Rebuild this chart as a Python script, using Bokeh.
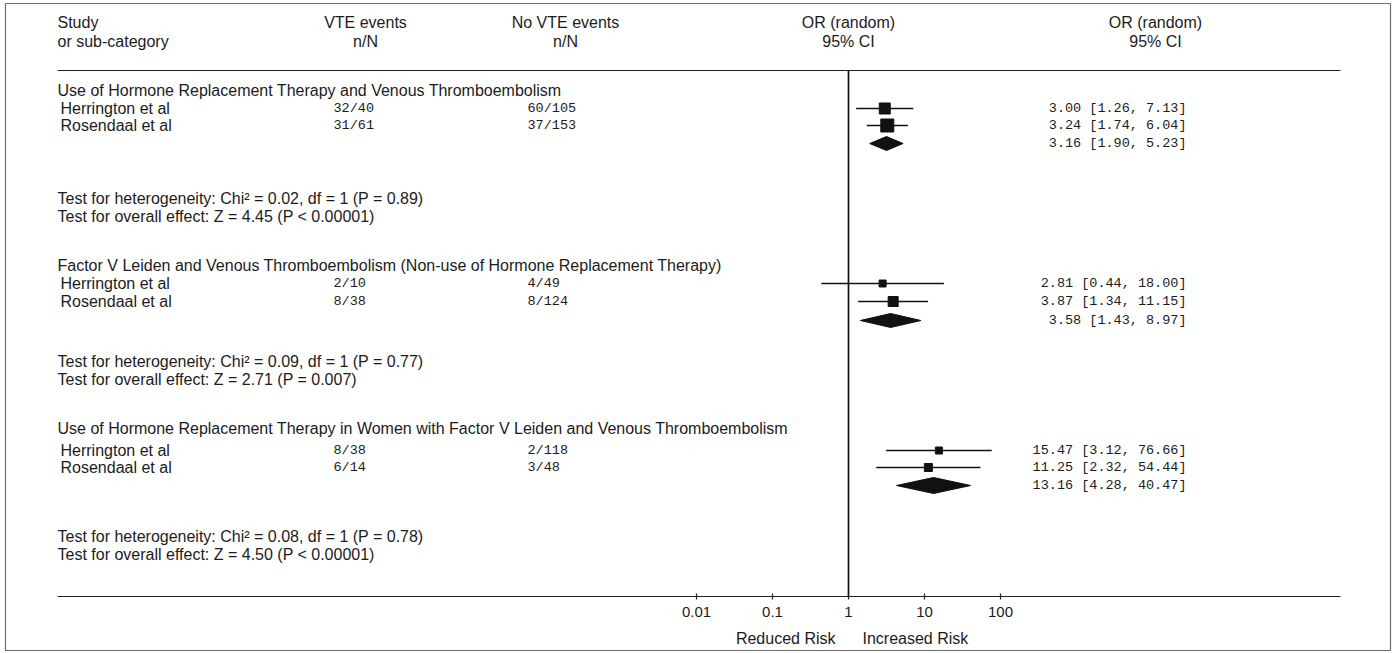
from bokeh.plotting import figure
from bokeh.models import Range1d, LogScale, ColumnDataSource
from bokeh.embed import file_html
from bokeh.resources import INLINE
from bokeh.core.properties import value

# ---------------- data ----------------
group_titles = [
    "Use of Hormone Replacement Therapy and Venous Thromboembolism",
    "Factor V Leiden and Venous Thromboembolism (Non-use of Hormone Replacement Therapy)",
    "Use of Hormone Replacement Therapy in Women with Factor V Leiden and Venous Thromboembolism",
]
study_names = ["Herrington et al", "Rosendaal et al"]
vte_events = [["32/40", "31/61"], ["2/10", "8/38"], ["8/38", "6/14"]]
no_vte_events = [["60/105", "37/153"], ["4/49", "8/124"], ["2/118", "3/48"]]
study_or = [[3.00, 3.24], [2.81, 3.87], [15.47, 11.25]]
study_lo = [[1.26, 1.74], [0.44, 1.34], [3.12, 2.32]]
study_hi = [[7.13, 6.04], [18.00, 11.15], [76.66, 54.44]]
pooled_or = [3.16, 3.58, 13.16]
pooled_lo = [1.90, 1.43, 4.28]
pooled_hi = [5.23, 8.97, 40.47]
het_chi2 = ["0.02", "0.09", "0.08"]
het_df = [1, 1, 1]
het_p = ["0.89", "0.77", "0.78"]
z_value = ["4.45", "2.71", "4.50"]
z_p = ["< 0.00001", "= 0.007", "< 0.00001"]
null_value = 1.0
tick_values = [0.01, 0.1, 1, 10, 100]
tick_labels = ["0.01", "0.1", "1", "10", "100"]
risk_labels = ["Reduced Risk", "Increased Risk"]
header_row1 = ["Study", "VTE events", "No VTE events", "OR (random)", "OR (random)"]
header_row2 = ["or sub-category", "n/N", "n/N", "95% CI", "95% CI"]

# ---------------- layout (page pixel rows / columns) ----------------
title_y = [90, 265, 428]
study_y = [[108, 125], [283, 301], [450, 467]]
pooled_y = [143, 320, 485]
test_y = [[198, 216], [361, 379], [536, 554]]
marker_size = [[11, 13], [7, 10], [7, 8]]
diamond_half = [7, 7, 8]
header_y = [22, 41]
header_x = [57, 365, 565, 848, 1155]
header_align = ["left", "center", "center", "center", "center"]
sep_y = 70
left_x, right_x = 57, 1340
col_vte_x, col_novte_x, col_ci_x = 333, 527, 1186
x_one_px, px_per_decade = 848, 76
axis_y, tick_label_y, risk_y = 596, 611, 638
box_l, box_r, box_t, box_b = 5, 1390, 3, 650

SANS = value("Liberation Sans")
MONO = value("Liberation Mono")
TXT = "#1c1c1c"
FS = "16px"
TFS = "15px"
MFS = "13.5px"

W, H = 1392, 652
p = figure(width=W, height=H, output_backend="svg", toolbar_location=None,
           x_range=Range1d(box_l, box_r), y_range=Range1d(box_b, box_t),
           x_axis_type=None, y_axis_type=None,
           min_border_left=box_l, min_border_right=W - box_r,
           min_border_top=box_t, min_border_bottom=H - box_b)
p.grid.visible = False
p.outline_line_color = "#6e6e6e"
p.outline_line_width = 1.2
p.background_fill_color = "white"
p.border_fill_color = "white"

or_lo = 10 ** ((box_l - x_one_px) / px_per_decade)
or_hi = 10 ** ((box_r - x_one_px) / px_per_decade)
p.extra_x_ranges = {"or": Range1d(or_lo, or_hi)}
p.extra_x_scales = {"or": LogScale()}

# headers
for row, yy in zip([header_row1, header_row2], header_y):
    p.text(x=header_x, y=[yy] * len(row), text=row, text_align=header_align,
           text_baseline="middle", text_font=SANS, text_font_size=FS, text_color=TXT)

# separator line and axis line
p.segment(x0=[left_x, left_x], x1=[right_x, right_x], y0=[sep_y, axis_y], y1=[sep_y, axis_y],
          line_color="#222222", line_width=1.2)

# null line
p.segment(x0=[null_value], x1=[null_value], y0=[sep_y], y1=[axis_y], x_range_name="or",
          line_color="#111111", line_width=1.7)

for g in range(3):
    p.text(x=[left_x], y=[title_y[g]], text=[group_titles[g]], text_baseline="middle",
           text_font=SANS, text_font_size=FS, text_color=TXT)
    src = ColumnDataSource(dict(
        name=study_names, y=study_y[g], vte=vte_events[g], novte=no_vte_events[g],
        est=study_or[g], lo=study_lo[g], hi=study_hi[g], size=marker_size[g],
        ci=["%.2f [%.2f, %.2f]" % (e, l, h) for e, l, h in zip(study_or[g], study_lo[g], study_hi[g])],
        nx=[left_x + 3] * 2, vx=[col_vte_x] * 2, nvx=[col_novte_x] * 2, cx=[col_ci_x] * 2))
    p.text(x="nx", y="y", text="name", source=src, text_baseline="middle",
           text_font=SANS, text_font_size=FS, text_color=TXT)
    p.text(x="vx", y="y", text="vte", source=src, text_baseline="middle",
           text_font=MONO, text_font_size=MFS, text_color=TXT)
    p.text(x="nvx", y="y", text="novte", source=src, text_baseline="middle",
           text_font=MONO, text_font_size=MFS, text_color=TXT)
    p.text(x="cx", y="y", text="ci", source=src, text_baseline="middle", text_align="right",
           text_font=MONO, text_font_size=MFS, text_color=TXT)
    p.segment(x0="lo", x1="hi", y0="y", y1="y", source=src, x_range_name="or",
              line_color="#111111", line_width=1.4)
    p.scatter(x="est", y="y", size="size", marker="square", source=src, x_range_name="or",
              fill_color="#111111", line_color="#111111")
    yy, hh = pooled_y[g], diamond_half[g]
    p.patches(xs=[[pooled_lo[g], pooled_or[g], pooled_hi[g], pooled_or[g]]],
              ys=[[yy, yy - hh, yy, yy + hh]], x_range_name="or",
              fill_color="#111111", line_color="#111111")
    p.text(x=[col_ci_x], y=[yy], text=["%.2f [%.2f, %.2f]" % (pooled_or[g], pooled_lo[g], pooled_hi[g])],
           text_baseline="middle", text_align="right", text_font=MONO, text_font_size=MFS,
           text_color=TXT)
    t1 = "Test for heterogeneity: Chi\u00b2 = %s, df = %d (P = %s)" % (het_chi2[g], het_df[g], het_p[g])
    t2 = "Test for overall effect: Z = %s (P %s)" % (z_value[g], z_p[g])
    p.text(x=[left_x, left_x], y=test_y[g], text=[t1, t2], text_baseline="middle",
           text_font=SANS, text_font_size=FS, text_color=TXT)

# log axis ticks and labels, placed through the log scale
p.segment(x0=tick_values, x1=tick_values, y0=[axis_y - 3] * 5, y1=[axis_y + 3] * 5,
          x_range_name="or", line_color="#222222", line_width=1.2)
p.text(x=tick_values, y=[tick_label_y] * 5, text=tick_labels, x_range_name="or",
       text_align="center", text_baseline="middle", text_font=SANS, text_font_size=TFS,
       text_color=TXT)
p.text(x=[null_value], y=[risk_y], text=[risk_labels[0]], x_range_name="or", x_offset=-13,
       text_align="right", text_baseline="middle", text_font=SANS, text_font_size=FS,
       text_color=TXT)
p.text(x=[null_value], y=[risk_y], text=[risk_labels[1]], x_range_name="or", x_offset=14,
       text_align="left", text_baseline="middle", text_font=SANS, text_font_size=FS,
       text_color=TXT)

open("out.html", "w").write(file_html(p, INLINE))
